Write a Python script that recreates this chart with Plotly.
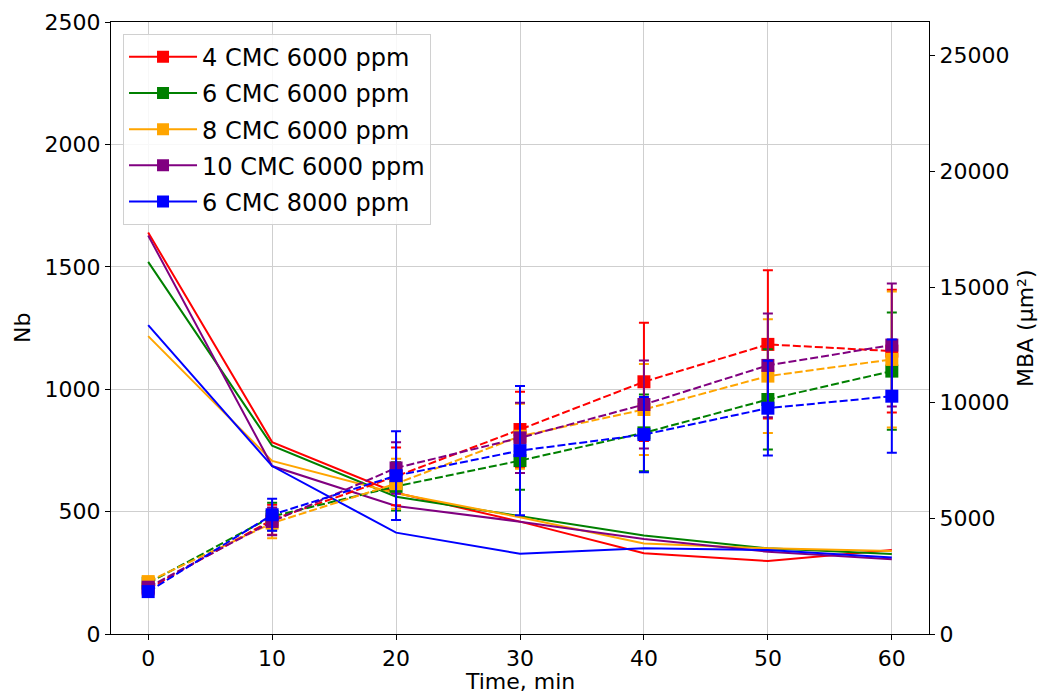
import plotly.graph_objects as go

time = [0, 10, 20, 30, 40, 50, 60]
labels = ["4 CMC 6000 ppm", "6 CMC 6000 ppm", "8 CMC 6000 ppm", "10 CMC 6000 ppm", "6 CMC 8000 ppm"]
colors = ["red", "green", "orange", "purple", "blue"]

nb_red = [1640, 784, 577, 459, 330, 298, 343]
nb_green = [1520, 769, 561, 483, 402, 350, 327]
nb_orange = [1217, 707, 575, 477, 370, 350, 339]
nb_purple = [1628, 686, 523, 459, 388, 336, 305]
nb_blue = [1262, 686, 414, 328, 350, 343, 313]

mba_red = [1950, 4940, 6815, 8840, 10905, 12522, 12232]
mba_green = [2200, 5080, 6383, 7496, 8696, 10139, 11366]
mba_orange = [2266, 4795, 6499, 8550, 9705, 11150, 11872]
mba_purple = [2023, 4866, 7179, 8479, 9922, 11612, 12491]
mba_blue = [1833, 5156, 6846, 7929, 8622, 9763, 10282]

err_red = [120, 650, 1250, 1630, 2557, 3200, 2650]
err_green = [120, 600, 1040, 1260, 1660, 2167, 2530]
err_orange = [120, 650, 1080, 1400, 1970, 2460, 2940]
err_purple = [120, 600, 1110, 1515, 1900, 2240, 2660]
err_blue = [120, 690, 1920, 2790, 1630, 2050, 2450]

nb_all = [nb_red, nb_green, nb_orange, nb_purple, nb_blue]
mba_all = [mba_red, mba_green, mba_orange, mba_purple, mba_blue]
err_all = [err_red, err_green, err_orange, err_purple, err_blue]

FONT = "DejaVu Sans"
fig = go.Figure()

for lab, c, nb in zip(labels, colors, nb_all):
    fig.add_trace(go.Scatter(x=time, y=nb, mode="lines", line=dict(color=c, width=2),
                             showlegend=False, yaxis="y", hoverinfo="skip"))

for lab, c, mba, err in zip(labels, colors, mba_all, err_all):
    fig.add_trace(go.Scatter(x=time, y=mba, mode="lines+markers",
                             line=dict(color=c, width=2, dash="8px,3px"),
                             marker=dict(symbol="square", size=13, color=c),
                             error_y=dict(type="data", array=err, visible=True, color=c,
                                          thickness=2, width=5),
                             showlegend=False, yaxis="y2"))

for i, (lab, c) in enumerate(zip(labels, colors)):
    fig.add_trace(go.Scatter(x=[None], y=[None], mode="lines+markers", name=lab,
                             legendgroup=f"g{i}",
                             line=dict(color=c, width=2),
                             marker=dict(symbol="square", size=12, color=c),
                             yaxis="y"))

axis_common = dict(showline=True, linecolor="black", linewidth=1, ticks="outside",
                   ticklen=5, tickcolor="black", tickfont=dict(family=FONT, size=22, color="black"),
                   zeroline=False, automargin=False)

fig.update_layout(
    width=1042, height=694,
    margin=dict(l=111, r=113, t=22, b=60),
    plot_bgcolor="white", paper_bgcolor="white",
    font=dict(family=FONT, size=22, color="black"),
    xaxis=dict(range=[-3, 63], tickvals=time, mirror=True, showgrid=True,
               gridcolor="#cfcfcf", gridwidth=1, **axis_common),
    yaxis=dict(range=[0, 2500], tickvals=[0, 500, 1000, 1500, 2000, 2500], showgrid=True,
               gridcolor="#cfcfcf", gridwidth=1, **axis_common),
    yaxis2=dict(range=[0, 26460], tickvals=[0, 5000, 10000, 15000, 20000, 25000],
                tickformat="d", overlaying="y", side="right", showgrid=False,
                **axis_common),
    legend=dict(x=0.0147, y=0.981, xanchor="left", yanchor="top",
                bgcolor="rgba(255,255,255,0.85)", bordercolor="#d0d0d0", borderwidth=1,
                tracegroupgap=2, itemwidth=68,
                font=dict(family=FONT, size=24, color="black")),
    annotations=[
        dict(text="Time, min", xref="paper", yref="paper", x=0.5, y=-0.0784,
             xanchor="center", yanchor="middle", showarrow=False,
             font=dict(family=FONT, size=22, color="black")),
        dict(text="Nb", xref="paper", yref="paper", x=-0.1088, y=0.5,
             xanchor="center", yanchor="middle", showarrow=False, textangle=-90,
             font=dict(family=FONT, size=22, color="black")),
        dict(text="MBA (μm²)", xref="paper", yref="paper", x=1.1174, y=0.5,
             xanchor="center", yanchor="middle", showarrow=False, textangle=-90,
             font=dict(family=FONT, size=22, color="black")),
    ],
)

fig.write_html("out.html")
